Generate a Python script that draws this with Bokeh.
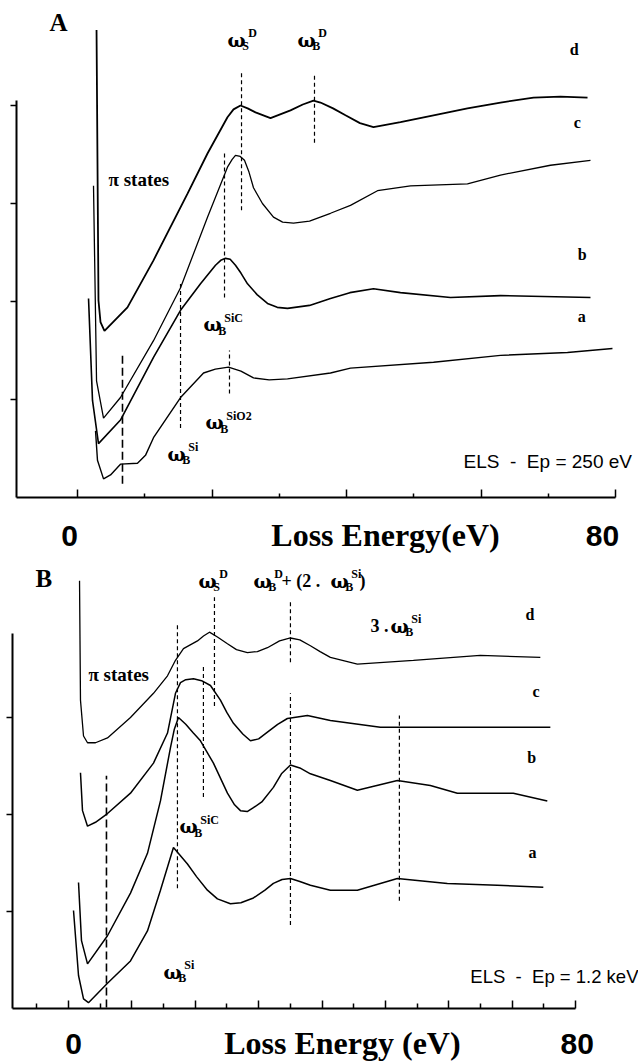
from bokeh.plotting import figure
from bokeh.models import Range1d, LinearAxis, FixedTicker, Label
from bokeh.layouts import column
from bokeh.embed import file_html
from bokeh.resources import INLINE

# ---------------- Panel A : ELS, Ep = 250 eV (loss energy in eV, intensity in arb. units) ----
A_d_ev = [2.83, 3.12, 3.42, 4.01, 7.43, 11.30, 16.36, 19.33, 22.30, 23.20, 24.24, 25.30, 26.47,
          28.70, 31.67, 33.50, 35.09, 36.13, 38.00, 39.85, 42.00, 44.01, 48.03, 52.94, 57.99,
          62.90, 67.81, 71.82, 75.84]
A_d_int = [4.77, 2.01, 1.79, 1.70, 1.94, 2.42, 3.10, 3.51, 3.88, 3.96, 4.00, 3.97, 3.93,
           3.87, 3.95, 4.01, 4.05, 4.03, 3.97, 3.90, 3.82, 3.78, 3.83, 3.90, 3.97,
           4.03, 4.08, 4.09, 4.08]

A_c_ev = [2.38, 2.83, 3.87, 6.39, 11.30, 15.32, 19.33, 22.30, 23.00, 23.49, 24.20, 24.83, 25.50,
          26.17, 27.50, 29.14, 30.50, 32.12, 34.50, 37.62, 40.59, 44.61, 49.52, 57.99, 62.90,
          70.33, 76.28]
A_c_int = [3.18, 1.19, 0.81, 1.02, 1.60, 2.14, 2.86, 3.37, 3.45, 3.49, 3.48, 3.44, 3.32,
           3.16, 3.00, 2.86, 2.81, 2.80, 2.82, 2.90, 2.98, 3.13, 3.18, 3.20, 3.29,
           3.39, 3.44]

A_b_ev = [1.64, 2.23, 3.12, 6.39, 11.30, 15.32, 18.29, 20.52, 21.30, 22.01, 22.70, 23.49, 24.30,
          25.28, 26.70, 28.25, 29.70, 31.23, 34.50, 37.62, 40.50, 44.01, 48.03, 55.46, 62.90,
          76.28]
A_b_int = [2.03, 0.99, 0.55, 0.79, 1.43, 1.91, 2.18, 2.37, 2.42, 2.44, 2.43, 2.37, 2.29,
           2.18, 2.07, 1.98, 1.94, 1.93, 1.96, 2.03, 2.09, 2.13, 2.09, 2.04, 2.06,
           2.04]

A_a_ev = [2.68, 2.97, 3.87, 4.91, 6.39, 8.92, 10.11, 11.30, 15.32, 18.74, 20.50, 22.45, 24.30,
          26.17, 28.50, 31.23, 37.62, 40.59, 52.94, 62.90, 72.86, 79.55]
A_a_int = [0.68, 0.38, 0.19, 0.23, 0.34, 0.35, 0.43, 0.61, 1.02, 1.27, 1.31, 1.33, 1.29,
           1.22, 1.20, 1.21, 1.27, 1.32, 1.38, 1.45, 1.48, 1.52]

# plasmon markers (energy, lower and upper extent of the dashed line)
A_mark_ev = [24.39, 35.24, 21.86, 15.32, 22.60]
A_mark_lo = [2.93, 3.62, 2.04, 0.71, 1.06]
A_mark_hi = [4.33, 4.31, 3.54, 2.21, 1.50]
A_si_ev, A_si_lo, A_si_hi = [6.69], [0.14], [1.48]

A_x_major = [0, 20, 40, 60, 80]
A_x_minor = [10, 30, 50, 70]
A_y_ticks = [1, 2, 3, 4]

# ---------------- Panel B : ELS, Ep = 1.2 keV -------------------------------------------------
B_d_ev = [1.74, 1.89, 2.37, 3.00, 4.26, 6.15, 9.78, 13.41, 15.62, 16.88, 18.14, 20.35, 21.30,
          22.24, 23.50, 25.08, 26.50, 28.23, 29.80, 31.39, 33.30, 35.02, 36.50, 38.17, 39.70,
          41.32, 45.58, 54.42, 64.98, 74.45]
B_d_int = [4.41, 3.18, 2.81, 2.74, 2.74, 2.79, 3.00, 3.25, 3.43, 3.59, 3.71, 3.79, 3.84,
           3.88, 3.83, 3.76, 3.70, 3.67, 3.68, 3.72, 3.79, 3.82, 3.80, 3.74, 3.68,
           3.62, 3.55, 3.59, 3.64, 3.62]

B_c_ev = [1.89, 2.21, 3.00, 4.26, 6.15, 9.78, 13.41, 15.62, 16.88, 17.67, 18.50, 19.72, 21.00,
          22.40, 23.97, 25.00, 26.03, 27.50, 28.71, 30.00, 31.39, 33.00, 34.54, 37.70, 41.32,
          49.21, 59.78, 70.19, 76.03]
B_c_int = [2.43, 2.04, 1.88, 1.92, 2.01, 2.22, 2.53, 2.84, 3.25, 3.36, 3.39, 3.40, 3.38,
           3.33, 3.18, 3.05, 2.94, 2.83, 2.76, 2.78, 2.85, 2.93, 2.99, 3.02, 2.97,
           2.90, 2.90, 2.90, 2.90]

B_b_ev = [1.58, 2.05, 3.00, 6.15, 9.78, 12.46, 14.51, 16.09, 16.70, 17.35, 18.50, 19.70, 20.82,
          22.87, 25.08, 26.20, 27.13, 28.20, 29.18, 30.50, 32.33, 33.60, 35.02, 36.50, 38.17,
          41.32, 45.58, 51.89, 57.10, 61.36, 70.19, 75.55]
B_b_int = [1.30, 0.70, 0.46, 0.75, 1.19, 1.60, 2.14, 2.69, 2.88, 3.00, 2.93, 2.84, 2.76,
           2.53, 2.22, 2.10, 2.04, 2.03, 2.07, 2.13, 2.28, 2.42, 2.51, 2.48, 2.42,
           2.35, 2.25, 2.35, 2.30, 2.22, 2.22, 2.14]

B_a_ev = [0.79, 1.58, 2.37, 3.15, 6.15, 9.78, 12.46, 14.51, 16.56, 17.60, 18.77, 20.20, 21.92,
          23.50, 25.55, 27.20, 29.18, 31.00, 32.33, 33.70, 35.02, 36.50, 38.17, 41.32, 45.58,
          51.89, 59.78, 67.67, 74.92]
B_a_int = [1.01, 0.34, 0.10, 0.06, 0.26, 0.49, 0.80, 1.22, 1.66, 1.58, 1.49, 1.36, 1.22,
           1.13, 1.08, 1.09, 1.14, 1.22, 1.29, 1.33, 1.34, 1.31, 1.27, 1.22, 1.22,
           1.34, 1.29, 1.27, 1.25]

B_mark_ev = [17.19, 23.03, 21.29, 35.02, 35.02, 52.21]
B_mark_lo = [1.24, 3.12, 2.18, 3.57, 0.86, 1.11]
B_mark_hi = [3.98, 4.24, 3.52, 4.19, 3.25, 3.02]
B_si_ev, B_si_lo, B_si_hi = [5.99], [0.01], [2.40]

B_x_major = [0, 10, 20, 30, 40, 50, 60, 70, 80]
B_x_minor = [-5, 5, 15, 25, 35, 45, 55, 65, 75]
B_y_ticks = [1, 2, 3]

SERIF = "Liberation Serif"
SANS = "Liberation Sans"
GREEK = "DejaVu Serif"


def tick_axis(ticks, line_color="black", **kw):
    # an axis that only draws tick marks (no numeric labels)
    return LinearAxis(ticker=FixedTicker(ticks=[], minor_ticks=ticks),
                      major_tick_in=0, major_tick_out=0,
                      minor_tick_line_width=1.5, minor_tick_line_color="black",
                      axis_line_width=2, axis_line_color=line_color,
                      major_label_text_font_size="0px", **kw)


def make_panel(height, xr, yr, x_bounds, y_bounds, x_major, x_minor, y_ticks, tick_len):
    p = figure(width=638, height=height, x_range=Range1d(*xr), y_range=Range1d(*yr),
               output_backend="svg", toolbar_location=None,
               x_axis_type=None, y_axis_type=None,
               min_border_left=0, min_border_right=0,
               min_border_top=0, min_border_bottom=0)
    p.outline_line_color = None
    p.background_fill_color = "white"
    p.border_fill_color = "white"
    # energy axis: long ticks every 10/20 eV, short ticks in between
    p.add_layout(tick_axis(x_minor, fixed_location=0, bounds=x_bounds,
                           minor_tick_in=tick_len[1], minor_tick_out=0), "below")
    p.add_layout(tick_axis(x_major, line_color=None, fixed_location=0, bounds=x_bounds,
                           minor_tick_in=tick_len[0], minor_tick_out=0), "below")
    # intensity axis
    p.add_layout(tick_axis(y_ticks, fixed_location=x_bounds[0], bounds=y_bounds,
                           minor_tick_in=0, minor_tick_out=6), "left")
    return p


def txt(p, x, y, s, size, font=SERIF, style="bold", align="left", dx=0, dy=0):
    # (x, y) is the text baseline; the label is anchored on its middle line
    p.add_layout(Label(x=x, y=y, x_offset=dx, y_offset=dy + 0.35 * size, text=s,
                       text_font=font, text_font_style=style, text_font_size=f"{size}px",
                       text_align=align, text_baseline="middle", text_color="black"))


def omega(p, x, y, sub, sup, size=19, small=12):
    w = size * 0.78
    txt(p, x, y, "ω", size, font=GREEK)
    txt(p, x, y, sub, small, dx=w, dy=-4)
    txt(p, x, y, sup, small, dx=w + 6, dy=9)


# ---------------- draw panel A ----------------
pa = make_panel(560, (-11.45, 83.42), (-0.643, 5.071), (-9.07, 80), (0, 4.05),
                A_x_major, A_x_minor, A_y_ticks, (8, 4))
for ev, inten, lw in [(A_d_ev, A_d_int, 1.8), (A_c_ev, A_c_int, 1.3),
                      (A_b_ev, A_b_int, 1.6), (A_a_ev, A_a_int, 1.4)]:
    pa.line(ev, inten, line_color="black", line_width=lw)
pa.segment(A_mark_ev, A_mark_lo, A_mark_ev, A_mark_hi, line_color="black",
           line_width=1.2, line_dash="4 3")
pa.segment(A_si_ev, A_si_lo, A_si_ev, A_si_hi, line_color="black",
           line_width=1.6, line_dash="8 4")

txt(pa, -4.16, 4.755, "A", 25)
omega(pa, 22.30, 4.60, "S", "D")
omega(pa, 32.71, 4.60, "B", "D")
txt(pa, 73.2, 4.51, "d", 16)
txt(pa, 73.8, 3.77, "c", 16)
txt(pa, 74.4, 2.42, "b", 16)
txt(pa, 74.4, 1.79, "a", 16)
txt(pa, 4.61, 3.18, "π states", 19)
omega(pa, 18.74, 1.70, "B", "SiC")
omega(pa, 19.03, 0.70, "B", "SiO2")
omega(pa, 13.38, 0.38, "B", "Si")
txt(pa, 57.40, 0.30, "ELS\u00a0\u00a0-\u00a0\u00a0Ep = 250 eV", 19, font=SANS, style="normal")
txt(pa, -1.19, -0.50, "0", 30, font=SANS, align="center")
txt(pa, 45.80, -0.50, "Loss Energy(eV)", 32, align="center")
txt(pa, 78.07, -0.50, "80", 30, font=SANS, align="center")

# ---------------- draw panel B ----------------
pb = make_panel(503, (-10.73, 89.94), (-0.567, 4.619), (-8.84, 80), (0, 3.87),
                B_x_major, B_x_minor, B_y_ticks, (8, 5))
for ev, inten, lw in [(B_d_ev, B_d_int, 1.3), (B_c_ev, B_c_int, 1.5),
                      (B_b_ev, B_b_int, 1.5), (B_a_ev, B_a_int, 1.5)]:
    pb.line(ev, inten, line_color="black", line_width=lw)
pb.segment(B_mark_ev, B_mark_lo, B_mark_ev, B_mark_hi, line_color="black",
           line_width=1.2, line_dash="4 3")
pb.segment(B_si_ev, B_si_lo, B_si_ev, B_si_hi, line_color="black",
           line_width=1.6, line_dash="8 4")

txt(pb, -5.21, 4.34, "B", 25)
omega(pb, 20.50, 4.34, "S", "D")
omega(pb, 29.18, 4.34, "B", "D")
txt(pb, 33.61, 4.34, "+ (2 .", 18)
omega(pb, 41.34, 4.34, "B", "Si")
txt(pb, 45.92, 4.34, ")", 18)
txt(pb, 47.65, 3.88, "3 .", 18)
omega(pb, 50.81, 3.88, "B", "Si")
txt(pb, 72.1, 4.00, "d", 16)
txt(pb, 73.2, 3.21, "c", 16)
txt(pb, 72.4, 2.53, "b", 16)
txt(pb, 72.6, 1.55, "a", 16)
txt(pb, 3.15, 3.38, "π states", 19)
omega(pb, 17.51, 1.81, "B", "SiC")
omega(pb, 14.98, 0.31, "B", "Si")
txt(pb, 63.41, 0.26, "ELS\u00a0\u00a0-\u00a0\u00a0Ep = 1.2 keV", 18.5, font=SANS, style="normal")
txt(pb, 0.79, -0.47, "0", 30, font=SANS, align="center")
txt(pb, 43.22, -0.47, "Loss Energy (eV)", 32, align="center")
txt(pb, 80.28, -0.47, "80", 30, font=SANS, align="center")

layout = column(pa, pb, spacing=0)
open("out.html", "w").write(file_html(layout, INLINE))
